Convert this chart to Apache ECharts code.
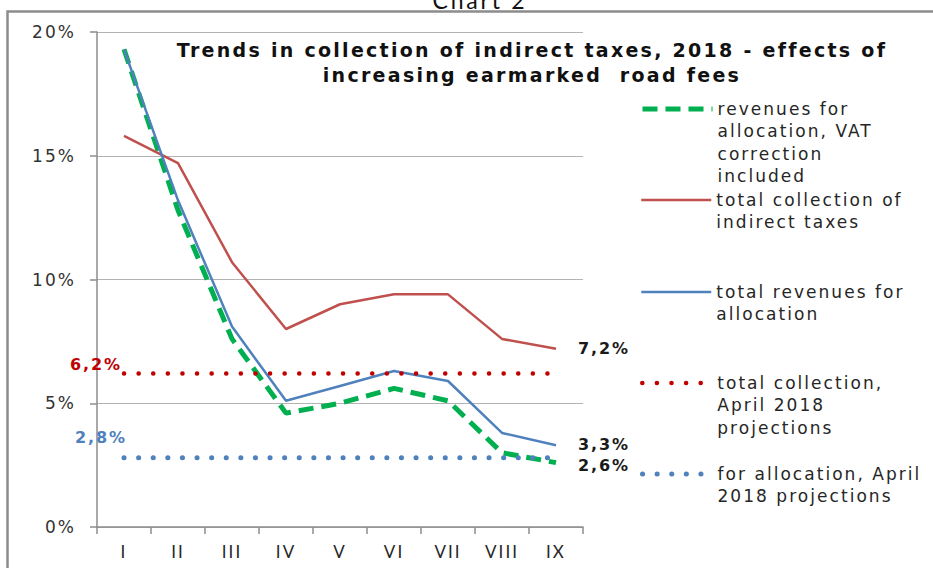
<!DOCTYPE html>
<html>
<head>
<meta charset="utf-8">
<script src="https://cdn.jsdelivr.net/npm/echarts@6/dist/echarts.min.js"></script>
<style>
  html, body { margin: 0; padding: 0; background: #fff; }
  #chart { width: 933px; height: 568px; }
  /* wide lettering, as in the printed report */
  #chart svg text { letter-spacing: 0.12em; }
</style>
</head>
<body>
<div id="chart"></div>
<script>
// Months of 2018 (Roman numerals)
const months = ['I', 'II', 'III', 'IV', 'V', 'VI', 'VII', 'VIII', 'IX'];

// Cumulative growth rates, %
const revenuesVatCorrected = [19.3, 12.8, 7.6, 4.6, 5.0, 5.6, 5.1, 3.0, 2.6];
const totalCollection      = [15.8, 14.7, 10.7, 8.0, 9.0, 9.4, 9.4, 7.6, 7.2];
const totalRevenues        = [19.3, 13.2, 8.1, 5.1, 5.7, 6.3, 5.9, 3.8, 3.3];
const collectionProjection = [6.2, 6.2, 6.2, 6.2, 6.2, 6.2, 6.2, 6.2, 6.2];
const allocationProjection = [2.8, 2.8, 2.8, 2.8, 2.8, 2.8, 2.8, 2.8, 2.8];

const yTicks = { min: 0, max: 20, step: 5 };

const names = {
  vat: 'revenues for allocation, VAT correction included',
  total: 'total collection of indirect taxes',
  rev: 'total revenues for allocation',
  projTotal: 'total collection, April 2018 projections',
  projAlloc: 'for allocation, April 2018 projections'
};
const legendLines = {};
legendLines[names.vat] = ['revenues for', 'allocation, VAT', 'correction', 'included'];
legendLines[names.total] = ['total collection of', 'indirect taxes'];
legendLines[names.rev] = ['total revenues for', 'allocation'];
legendLines[names.projTotal] = ['total collection,', 'April 2018', 'projections'];
legendLines[names.projAlloc] = ['for allocation, April', '2018 projections'];

const fmtPct = v => v.toFixed(1).replace('.', ',') + '%';

// One legend block per series. The legend icon sits at the middle of its
// text block, so blank lines are put above the text to bring the icon level
// with the first line; `firstLine` is the y of that first line.
const LEGEND_LH = 22.4;
function legendFor(name, firstLine, lineStyle) {
  const lines = legendLines[name];
  const n = lines.length;
  const text = '\n'.repeat(n - 1) + lines.join('\n');
  return {
    data: [name],
    left: 640,
    top: firstLine - (2 * n - 1) * LEGEND_LH / 2,
    padding: 0,
    orient: 'vertical',
    itemWidth: 70,
    itemHeight: 14,
    selectedMode: false,
    itemStyle: { opacity: 0 },
    lineStyle: lineStyle,
    formatter: () => text,
    textStyle: {
      fontFamily: 'DejaVu Sans',
      fontSize: 17,
      color: '#262626',
      lineHeight: LEGEND_LH
    }
  };
}

// Projection lines carry their value as a label at the first month
function withStartLabel(values, color, offsetX, dist) {
  return values.map((v, i) => i === 0 ? {
    value: v,
    symbol: 'circle',
    symbolSize: 1,
    itemStyle: { color: 'rgba(0,0,0,0)' },
    label: {
      show: true,
      position: 'top',
      distance: dist,
      offset: [offsetX, 0],
      formatter: p => fmtPct(p.value),
      color: color,
      fontFamily: 'DejaVu Sans',
      fontWeight: 'bold',
      fontSize: 16
    }
  } : v);
}

const endLabel = {
  show: true,
  distance: 22,
  formatter: p => fmtPct(p.value),
  color: '#1a1a1a',
  fontFamily: 'DejaVu Sans',
  fontWeight: 'bold',
  fontSize: 16
};

const styles = {
  vat: { color: '#00b050', width: 5, type: [15, 8] },
  total: { color: '#c0504d', width: 2.5 },
  rev: { color: '#4f81bd', width: 2.5 },
  projTotal: { color: '#c00000', width: 4.5, type: [0.1, 14.5], cap: 'round' },
  projAlloc: { color: '#4f81bd', width: 5, type: [0.1, 14.5], cap: 'round' }
};

const chart = echarts.init(document.getElementById('chart'), null, { renderer: 'svg' });

chart.setOption({
  animation: false,
  backgroundColor: '#fff',
  title: [
    {
      text: 'Chart 2',
      left: 475,
      top: -17,
      textAlign: 'center',
      textStyle: { fontFamily: 'Lato', fontWeight: 'normal', fontSize: 23, color: '#111' }
    },
    {
      text: 'Trends in collection of indirect taxes, 2018 - effects of\nincreasing earmarked  road fees',
      left: 527,
      top: 32,
      textAlign: 'center',
      textStyle: { fontFamily: 'DejaVu Sans', fontWeight: 'bold', fontSize: 19, lineHeight: 25, color: '#111' }
    }
  ],
  graphic: [{
    type: 'rect',
    silent: true,
    shape: { x: 7.5, y: 11.5, width: 1000, height: 700 },
    style: { fill: 'none', stroke: '#8c8c8c', lineWidth: 2.5 },
    z: -1
  }],
  legend: [
    legendFor(names.vat, 109, { width: 5 }),
    legendFor(names.total, 200, { width: 2.5 }),
    legendFor(names.rev, 292, { width: 2.5 }),
    legendFor(names.projTotal, 383, { width: 4.5 }),
    legendFor(names.projAlloc, 474, { width: 5 })
  ],
  grid: { left: 97, right: 350, top: 32, bottom: 41, containLabel: false },
  xAxis: {
    type: 'category',
    data: months,
    boundaryGap: true,
    axisLine: { lineStyle: { color: '#8c8c8c', width: 1.5 } },
    axisTick: { show: true, length: 7, lineStyle: { color: '#8c8c8c', width: 1.5 } },
    axisLabel: { margin: 16, fontFamily: 'Lato', fontSize: 17, color: '#262626' }
  },
  yAxis: {
    type: 'value',
    min: yTicks.min,
    max: yTicks.max,
    interval: yTicks.step,
    axisLine: { show: true, lineStyle: { color: '#8c8c8c', width: 1.5 } },
    axisTick: { show: true, length: 7, lineStyle: { color: '#8c8c8c', width: 1.5 } },
    splitLine: { lineStyle: { color: '#b3b3b3', width: 1.2 } },
    axisLabel: {
      margin: 21,
      formatter: '{value}%',
      fontFamily: 'DejaVu Sans',
      fontSize: 17,
      color: '#333'
    }
  },
  series: [
    {
      name: names.vat,
      type: 'line',
      data: revenuesVatCorrected,
      symbol: 'none',
      lineStyle: styles.vat,
      itemStyle: { color: styles.vat.color },
      endLabel: Object.assign({}, endLabel, { offset: [0, 3] }),
      z: 2
    },
    {
      name: names.total,
      type: 'line',
      data: totalCollection,
      symbol: 'none',
      lineStyle: styles.total,
      itemStyle: { color: styles.total.color },
      endLabel: endLabel,
      z: 3
    },
    {
      name: names.rev,
      type: 'line',
      data: totalRevenues,
      symbol: 'none',
      lineStyle: styles.rev,
      itemStyle: { color: styles.rev.color },
      endLabel: Object.assign({}, endLabel, { offset: [0, -1] }),
      z: 4
    },
    {
      name: names.projTotal,
      type: 'line',
      data: withStartLabel(collectionProjection, '#c00000', -28, 1),
      symbol: 'none',
      lineStyle: styles.projTotal,
      itemStyle: { color: styles.projTotal.color },
      z: 5
    },
    {
      name: names.projAlloc,
      type: 'line',
      data: withStartLabel(allocationProjection, '#4f81bd', -23, 12),
      symbol: 'none',
      lineStyle: styles.projAlloc,
      itemStyle: { color: styles.projAlloc.color },
      z: 6
    }
  ]
});
</script>
</body>
</html>
